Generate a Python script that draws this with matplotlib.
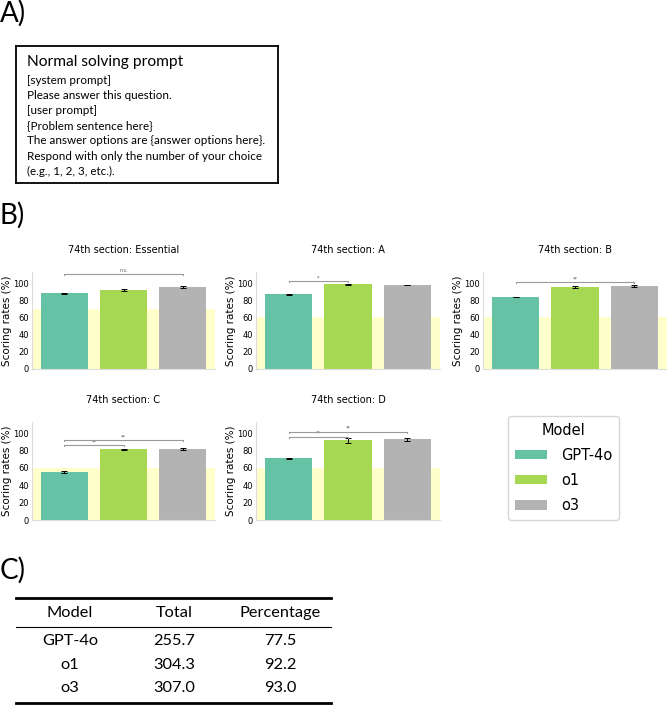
import numpy as np
import matplotlib.pyplot as plt
from matplotlib.patches import Patch

W, H = 667, 712

# ---- data ----
models = ["GPT-4o", "o1", "o3"]
colors = ["#66c2a5", "#a6d854", "#b3b3b3"]

sections = ["74th section: Essential", "74th section: A", "74th section: B",
            "74th section: C", "74th section: D"]
pass_lines = [70, 60, 60, 60, 60]
scores = [
    [88.0, 92.0, 95.3],
    [87.0, 98.7, 97.5],
    [84.0, 95.3, 97.0],
    [55.3, 81.7, 81.7],
    [71.0, 91.7, 93.0],
]
errors = [
    [0.3, 1.0, 1.3],
    [0.7, 0.7, 0.2],
    [0.3, 1.5, 1.0],
    [1.0, 0.7, 1.3],
    [0.4, 2.5, 2.0],
]
# (from, to, height, label)
brackets = [
    [(0, 2, 111, "n.s.")],
    [(0, 1, 102, "*")],
    [(0, 2, 101, "**")],
    [(0, 1, 86, "**"), (0, 2, 92, "**")],
    [(0, 1, 96, "**"), (0, 2, 102, "**")],
]

prompt_title = "Normal solving prompt"
prompt_lines = [
    "[system prompt]",
    "Please answer this question.",
    "[user prompt]",
    "{Problem sentence here}",
    "The answer options are {answer options here}.",
    "Respond with only the number of your choice",
    "(e.g., 1, 2, 3, etc.).",
]

table_cols = ["Model", "Total", "Percentage"]
table_totals = ["255.7", "304.3", "307.0"]
table_pcts = ["77.5", "92.2", "93.0"]


def px_axes(fig, x0, y0, x1, y1):
    # pixel box (top-left origin) -> figure axes
    return fig.add_axes([x0 / W, 1 - y1 / H, (x1 - x0) / W, (y1 - y0) / H])


fig = plt.figure(figsize=(W / 100, H / 100), dpi=100)
side_font = "Lato"

# ---- A) prompt box ----
fig.text(0 / W, 1 - 13 / H, "A)", fontsize=20, family=side_font, va="center")
axA = px_axes(fig, 16, 46, 278, 183)
axA.set_xticks([])
axA.set_yticks([])
for s in axA.spines.values():
    s.set_linewidth(1.3)
    s.set_color("black")
axA.set_xlim(0, 262)
axA.set_ylim(137, 0)
axA.text(11, 16, prompt_title, fontsize=11.2, family=side_font, va="center")
for i, line in enumerate(prompt_lines):
    axA.text(11, 34 + i * 15.2, line, fontsize=8.4, family=side_font, va="center")

# ---- B) bar panels ----
fig.text(0 / W, 1 - 215 / H, "B)", fontsize=20, family=side_font, va="center")
boxes = [(32, 272, 215, 369), (256, 272, 440, 369), (483, 272, 667, 369),
         (32, 422, 215, 520), (256, 422, 440, 520)]
x = np.arange(len(models))
for k, (x0, y0, x1, y1) in enumerate(boxes):
    ax = px_axes(fig, x0, y0, x1, y1)
    ax.axhspan(0, pass_lines[k], color="#ffffcc", zorder=0, lw=0)
    ax.bar(x, scores[k], width=0.8, color=colors, zorder=2)
    ax.errorbar(x, scores[k], yerr=errors[k], fmt="none", ecolor="black",
                elinewidth=0.7, capsize=2.5, capthick=0.7, zorder=3)
    for a, b, h, lab in brackets[k]:
        ax.plot([a, a, b, b], [h - 1.2, h, h, h - 1.2], color="#999999",
                lw=0.8, zorder=3)
        ax.text((a + b) / 2, h + 1, lab, fontsize=3.5, ha="center",
                va="bottom", color="#555555")
    ax.set_xlim(-0.55, 2.55)
    ax.set_ylim(0, 113)
    ax.set_yticks([0, 20, 40, 60, 80, 100])
    ax.set_xticks([])
    ax.tick_params(axis="y", length=0, labelsize=6, pad=2)
    ax.set_ylabel("Scoring rates (%)", fontsize=7.5, labelpad=1)
    ax.set_title(sections[k], fontsize=7, pad=14)
    for side in ["top", "right"]:
        ax.spines[side].set_visible(False)
    for side in ["left", "bottom"]:
        ax.spines[side].set_color("#dddddd")
        ax.spines[side].set_linewidth(0.8)

handles = [Patch(facecolor=c, label=m) for c, m in zip(colors, models)]
fig.legend(handles=handles, title="Model", fontsize=10.5, title_fontsize=10.5,
           loc="upper left", bbox_to_anchor=(508 / W, 1 - 416 / H),
           borderaxespad=0, frameon=True, edgecolor="#cccccc",
           handlelength=2.2, handleheight=0.6, handletextpad=1.0,
           labelspacing=0.7, borderpad=0.45)

# ---- C) table ----
fig.text(0 / W, 1 - 570 / H, "C)", fontsize=20, family=side_font, va="center")
axT = px_axes(fig, 0, 590, 667, 712)
axT.set_xlim(0, W)
axT.set_ylim(712, 590)
axT.axis("off")
col_x = [70, 174, 280]
axT.plot([16, 331], [598, 598], color="black", lw=2.0)
axT.plot([16, 331], [627, 627], color="black", lw=0.8)
axT.plot([16, 331], [703, 703], color="black", lw=2.0)
for cx, name in zip(col_x, table_cols):
    axT.text(cx, 613, name, fontsize=11.8, family=side_font, ha="center", va="center")
row_y = [641, 665, 688]
for ry, m, t, p in zip(row_y, models, table_totals, table_pcts):
    axT.text(col_x[0], ry, m, fontsize=11.8, family=side_font, ha="center", va="center")
    axT.text(col_x[1], ry, t, fontsize=11.8, family=side_font, ha="center", va="center")
    axT.text(col_x[2], ry, p, fontsize=11.8, family=side_font, ha="center", va="center")

fig.savefig("out.png", dpi=100)
